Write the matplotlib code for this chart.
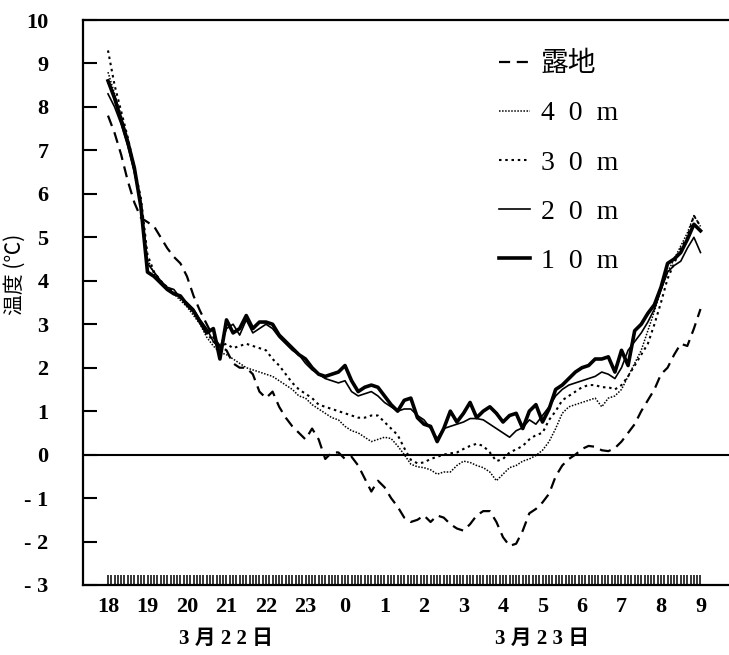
import numpy as np
import matplotlib
matplotlib.use('Agg')
from matplotlib import pyplot as plt
from matplotlib.ticker import FixedLocator

# hour labels (18:00 on 3/22 to 9:00 on 3/23), one sample every 10 minutes
hours = ['18', '19', '20', '21', '22', '23', '0', '1', '2', '3', '4', '5', '6', '7', '8', '9']
dates = ['3 月 2 2 日', '3 月 2 3 日']
date_pos = [3, 11]
yticks = [-3, -2, -1, 0, 1, 2, 3, 4, 5, 6, 7, 8, 9, 10]
ytick_labels = ['- 3', '- 2', '- 1', '0', '1', '2', '3', '4', '5', '6', '7', '8', '9', '10']
series_names = ['露地', '4  0  m', '3  0  m', '2  0  m', '1  0  m']

roji = [7.8, 7.4, 6.9, 6.3, 5.8, 5.45, 5.35, 5.25, 5.0, 4.75, 4.55, 4.4, 4.1, 3.65, 3.3, 3.0,
        2.7, 2.5, 2.4, 2.1, 2.0, 2.0, 1.85, 1.45, 1.3, 1.45, 1.1, 0.85, 0.65, 0.5, 0.35, 0.6,
        0.35, -0.1, 0.05, 0.05, -0.1, -0.05, -0.25, -0.55, -0.85, -0.6, -0.75, -1.0, -1.2, -1.45,
        -1.55, -1.5, -1.4, -1.55, -1.4, -1.45, -1.6, -1.7, -1.75, -1.6, -1.4, -1.3, -1.3, -1.55,
        -1.9, -2.1, -2.05, -1.75, -1.35, -1.25, -1.1, -0.9, -0.5, -0.25, -0.1, 0.0, 0.13, 0.2,
        0.18, 0.1, 0.08, 0.15, 0.3, 0.5, 0.7, 1.0, 1.25, 1.5, 1.85, 2.0, 2.3, 2.55, 2.5, 2.9, 3.35]

m40 = [8.8, 8.3, 7.8, 7.2, 6.5, 5.8, 4.5, 4.15, 3.95, 3.8, 3.7, 3.55, 3.4, 3.2, 3.0, 2.7,
       2.5, 2.35, 2.3, 2.2, 2.1, 2.0, 1.95, 1.9, 1.85, 1.8, 1.7, 1.6, 1.5, 1.35, 1.3, 1.15,
       1.05, 0.95, 0.85, 0.8, 0.65, 0.55, 0.5, 0.4, 0.3, 0.35, 0.4, 0.37, 0.2, 0.0, -0.22,
       -0.28, -0.3, -0.35, -0.45, -0.4, -0.4, -0.25, -0.15, -0.18, -0.25, -0.3, -0.4, -0.6,
       -0.45, -0.3, -0.25, -0.15, -0.1, -0.02, 0.1, 0.3, 0.6, 0.95, 1.1, 1.15, 1.2, 1.25, 1.3,
       1.1, 1.3, 1.35, 1.5, 1.8, 2.1, 2.4, 2.85, 3.3, 3.8, 4.2, 4.5, 4.8, 5.1, 5.5, 5.25]

m30 = [9.3, 8.5, 7.9, 7.3, 6.6, 5.9, 4.6, 4.2, 4.0, 3.85, 3.75, 3.6, 3.45, 3.3, 3.05, 2.8,
       2.6, 2.5, 2.55, 2.45, 2.5, 2.55, 2.5, 2.45, 2.4, 2.2, 2.05, 1.85, 1.65, 1.5, 1.4, 1.3,
       1.15, 1.1, 1.05, 1.0, 0.95, 0.9, 0.85, 0.85, 0.9, 0.9, 0.75, 0.6, 0.45, 0.15, -0.12,
       -0.2, -0.18, -0.1, -0.05, 0.0, 0.03, 0.05, 0.13, 0.2, 0.25, 0.2, 0.05, -0.15, -0.1,
       0.05, 0.12, 0.2, 0.35, 0.45, 0.5, 0.8, 1.0, 1.25, 1.35, 1.45, 1.55, 1.6, 1.6, 1.55,
       1.55, 1.5, 1.6, 1.8, 2.05, 2.3, 2.55, 3.0, 3.5, 4.05, 4.4, 4.75, 5.0, 5.5, 5.25]

m20 = [8.3, 8.0, 7.6, 7.1, 6.5, 5.8, 4.4, 4.2, 4.0, 3.85, 3.8, 3.6, 3.5, 3.35, 3.1, 2.9,
       2.6, 2.45, 2.9, 3.0, 2.75, 3.1, 2.8, 2.9, 3.0, 2.9, 2.7, 2.55, 2.4, 2.3, 2.1, 1.95,
       1.85, 1.75, 1.7, 1.65, 1.7, 1.45, 1.35, 1.4, 1.45, 1.35, 1.2, 1.1, 1.0, 1.05, 1.05,
       0.9, 0.8, 0.6, 0.37, 0.6, 0.65, 0.7, 0.75, 0.83, 0.83, 0.8, 0.7, 0.6, 0.5, 0.4, 0.55,
       0.62, 0.8, 0.7, 0.9, 1.1, 1.35, 1.5, 1.6, 1.65, 1.7, 1.75, 1.8, 1.9, 1.85, 1.75, 2.0,
       2.4, 2.6, 2.8, 3.05, 3.35, 3.8, 4.2, 4.35, 4.45, 4.75, 5.0, 4.65]

m10 = [8.6, 8.2, 7.7, 7.2, 6.6, 5.7, 4.2, 4.1, 3.95, 3.8, 3.7, 3.65, 3.45, 3.3, 3.05, 2.8,
       2.9, 2.2, 3.1, 2.8, 2.9, 3.2, 2.9, 3.05, 3.05, 3.0, 2.75, 2.6, 2.45, 2.3, 2.2, 2.0,
       1.85, 1.8, 1.85, 1.9, 2.05, 1.7, 1.45, 1.55, 1.6, 1.55, 1.35, 1.15, 1.0, 1.25, 1.3,
       0.85, 0.7, 0.65, 0.3, 0.6, 1.0, 0.75, 0.95, 1.2, 0.85, 1.0, 1.1, 0.95, 0.75, 0.9, 0.95,
       0.6, 1.0, 1.15, 0.75, 1.05, 1.5, 1.6, 1.75, 1.9, 2.0, 2.05, 2.2, 2.2, 2.25, 1.9, 2.4,
       2.05, 2.85, 3.0, 3.25, 3.45, 3.85, 4.4, 4.5, 4.65, 4.95, 5.3, 5.15]

t = np.arange(len(m10)) / 6.0

serif = ['Liberation Serif', 'Noto Sans CJK JP', 'DejaVu Sans']
cjk = ['Noto Sans CJK JP', 'DejaVu Sans']

fig = plt.figure(figsize=(7.29, 6.55), dpi=100)
ax = fig.add_axes([83 / 729, 1 - 585 / 655, 1 - 83 / 729, (585 - 20) / 655])

ax.plot(t, roji, color='black', lw=1.6, ls=(0, (5, 3)), label=series_names[0])
ax.plot(t, m40, color='black', lw=1.1, ls=(0, (1, 1)), label=series_names[1])
ax.plot(t, m30, color='black', lw=1.5, ls=(0, (1.2, 1.8)), label=series_names[2])
ax.plot(t, m20, color='black', lw=1.2, ls='-', label=series_names[3])
ax.plot(t, m10, color='black', lw=2.6, ls='-', label=series_names[4])

ax.axhline(0, color='black', lw=1.5)

ax.set_xlim((83 - 108) / 39.5, (729 - 108) / 39.5)
ax.set_ylim(-3, 10)

for s in ['top', 'left', 'bottom']:
    ax.spines[s].set_linewidth(1.6)
ax.spines['right'].set_visible(False)

ax.set_yticks(yticks)
ax.set_yticklabels(ytick_labels, family=serif, fontsize=16, fontweight='bold')
ax.tick_params(axis='y', direction='in', length=10, width=1.5, pad=25)

ax.xaxis.remove_overlapping_locs = False
ax.set_xticks(range(len(hours)))
ax.set_xticklabels(hours, family=serif, fontsize=16, fontweight='bold')
ax.tick_params(axis='x', which='major', length=0, pad=9)
ax.xaxis.set_minor_locator(FixedLocator(np.arange(0, 15.01, 1 / 12)))
ax.tick_params(axis='x', which='minor', direction='in', length=7, width=1.1)

for d, p in zip(dates, date_pos):
    ax.text(p, -0.095, d, transform=ax.get_xaxis_transform(), ha='center', va='center',
            family=serif, fontsize=15, fontweight='bold')

ax.set_ylabel('温度 (℃)', family=cjk, fontsize=15)
ax.yaxis.set_label_coords(-0.088, 0.55)

leg = ax.legend(loc='upper left', bbox_to_anchor=(499 / 729, 1 - 52 / 655),
                bbox_transform=fig.transFigure, frameon=False, borderpad=0,
                borderaxespad=0, handlelength=1.1, handletextpad=0.4, labelspacing=0.85,
                prop={'family': serif, 'size': 20})

fig.savefig('out.png', dpi=100)
